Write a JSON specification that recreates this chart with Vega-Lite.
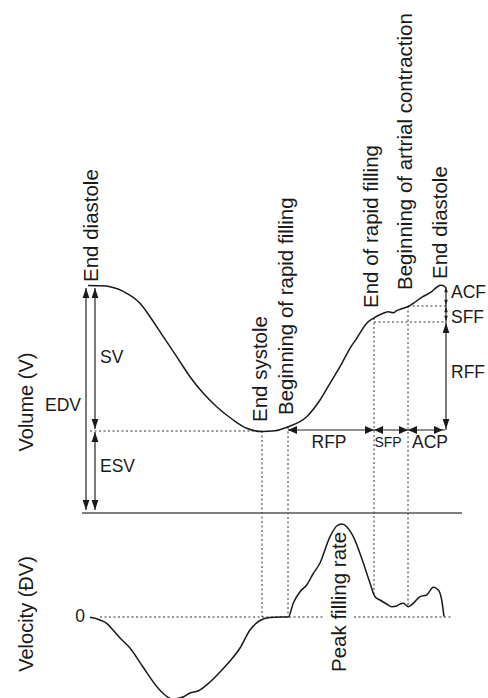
{
  "$schema": "https://vega.github.io/schema/vega-lite/v6.json",
  "width": 488,
  "height": 698,
  "padding": 0,
  "autosize": {"type": "none"},
  "config": {
    "view": {"stroke": null},
    "text": {"font": "Liberation Sans", "color": "#1a1a1a"}
  },
  "datasets": {
    "volume": [
      {"t": 88, "v": 285.5}, {"t": 100, "v": 285.8}, {"t": 110, "v": 286.7}, {"t": 118, "v": 289}, {"t": 126.7, "v": 293.3},
      {"t": 140, "v": 303.3}, {"t": 150, "v": 316.7}, {"t": 163.3, "v": 336.7}, {"t": 176.7, "v": 356.7},
      {"t": 190, "v": 376.7}, {"t": 203.3, "v": 393.3}, {"t": 216.7, "v": 406.7}, {"t": 233.3, "v": 420},
      {"t": 246.7, "v": 428.3}, {"t": 262, "v": 431.5}, {"t": 275, "v": 430.8}, {"t": 288.3, "v": 426.7},
      {"t": 306.7, "v": 416.7}, {"t": 320, "v": 400}, {"t": 330, "v": 383.3}, {"t": 340, "v": 366.7},
      {"t": 350, "v": 348.3}, {"t": 356.7, "v": 338.3}, {"t": 366.7, "v": 323.3}, {"t": 373.3, "v": 318.3},
      {"t": 383.3, "v": 313.3}, {"t": 388.3, "v": 311.7}, {"t": 393.3, "v": 312.7}, {"t": 396.7, "v": 310.7},
      {"t": 403.3, "v": 308.3}, {"t": 408.3, "v": 306.5}, {"t": 413.3, "v": 303.3}, {"t": 421.7, "v": 297.3},
      {"t": 431.7, "v": 291.7}, {"t": 437, "v": 287}, {"t": 440.5, "v": 285.2}, {"t": 443, "v": 285.5}, {"t": 445.5, "v": 287.5}
    ],
    "velocity": [
      {"t": 90, "v": 617.3}, {"t": 100, "v": 620}, {"t": 106.7, "v": 623.3}, {"t": 113, "v": 630}, {"t": 120, "v": 638},
      {"t": 130, "v": 648}, {"t": 143, "v": 667}, {"t": 158, "v": 688}, {"t": 165, "v": 695}, {"t": 172, "v": 699},
      {"t": 183, "v": 697}, {"t": 190, "v": 693}, {"t": 198, "v": 691}, {"t": 210, "v": 682}, {"t": 220, "v": 672},
      {"t": 230, "v": 661}, {"t": 240, "v": 648}, {"t": 250, "v": 630}, {"t": 260, "v": 620.5}, {"t": 270, "v": 617.5},
      {"t": 280, "v": 617}, {"t": 288.3, "v": 617}, {"t": 293.3, "v": 603}, {"t": 300, "v": 591.7}, {"t": 306.7, "v": 585},
      {"t": 313, "v": 574}, {"t": 320, "v": 563}, {"t": 330, "v": 536.7}, {"t": 336.7, "v": 526}, {"t": 341.7, "v": 524},
      {"t": 346.7, "v": 526.7}, {"t": 353.3, "v": 536.7}, {"t": 363.3, "v": 563}, {"t": 370, "v": 583}, {"t": 375, "v": 596.7},
      {"t": 380, "v": 600}, {"t": 386.7, "v": 604}, {"t": 391.7, "v": 606.7}, {"t": 396.7, "v": 606}, {"t": 400, "v": 604},
      {"t": 403.3, "v": 603.3}, {"t": 408.3, "v": 606.7}, {"t": 413.3, "v": 603.3}, {"t": 420, "v": 596.7}, {"t": 426.7, "v": 595},
      {"t": 433.3, "v": 587.3}, {"t": 438.3, "v": 590}, {"t": 441.7, "v": 600}, {"t": 444, "v": 616.7}
    ],
    "dotted": [
      {"x": 90, "y": 431, "x2": 262, "y2": 431},
      {"x": 262, "y": 431, "x2": 262, "y2": 617},
      {"x": 288, "y": 427, "x2": 288, "y2": 617},
      {"x": 374, "y": 318, "x2": 374, "y2": 594},
      {"x": 408, "y": 306, "x2": 408, "y2": 605},
      {"x": 374, "y": 322, "x2": 446, "y2": 322},
      {"x": 408, "y": 306, "x2": 446, "y2": 306},
      {"x": 100, "y": 617, "x2": 325, "y2": 617},
      {"x": 354, "y": 617, "x2": 453, "y2": 617}
    ],
    "separator": [
      {"x": 82, "y": 513, "x2": 462, "y2": 513}
    ],
    "shafts": [
      {"x": 86, "y": 288, "x2": 86, "y2": 510},
      {"x": 95, "y": 288, "x2": 95, "y2": 429},
      {"x": 95, "y": 432, "x2": 95, "y2": 510},
      {"x": 288, "y": 430, "x2": 445, "y2": 430},
      {"x": 446, "y": 287, "x2": 446, "y2": 430}
    ],
    "heads": [
      {"x": 86, "y": 288, "dir": "up", "kind": "big"},
      {"x": 86, "y": 510, "dir": "down", "kind": "big"},
      {"x": 95, "y": 288, "dir": "up", "kind": "big"},
      {"x": 95, "y": 429, "dir": "down", "kind": "big"},
      {"x": 95, "y": 432, "dir": "up", "kind": "big"},
      {"x": 95, "y": 510, "dir": "down", "kind": "big"},
      {"x": 288, "y": 430, "dir": "left", "kind": "big"},
      {"x": 374, "y": 430, "dir": "right", "kind": "big"},
      {"x": 374, "y": 430, "dir": "left", "kind": "big"},
      {"x": 408, "y": 430, "dir": "right", "kind": "big"},
      {"x": 408, "y": 430, "dir": "left", "kind": "big"},
      {"x": 443, "y": 430, "dir": "right", "kind": "big"},
      {"x": 446, "y": 323, "dir": "up", "kind": "big"},
      {"x": 446, "y": 429, "dir": "down", "kind": "big"},
      {"x": 446, "y": 307, "dir": "up", "kind": "small"},
      {"x": 446, "y": 321, "dir": "down", "kind": "small"},
      {"x": 446, "y": 287, "dir": "up", "kind": "small"},
      {"x": 446, "y": 305, "dir": "down", "kind": "small"}
    ],
    "labels": [
      {"x": 27, "y": 402, "text": "Volume (V)", "role": "vtitle"},
      {"x": 27, "y": 614, "text": "Velocity (ĐV)", "role": "vtitle"},
      {"x": 92, "y": 282, "text": "End diastole", "role": "event"},
      {"x": 261, "y": 422, "text": "End systole", "role": "event"},
      {"x": 287, "y": 415, "text": "Beginning of rapid filling", "role": "event"},
      {"x": 372, "y": 308, "text": "End of rapid filling", "role": "event"},
      {"x": 406, "y": 290, "text": "Beginning of artrial contraction", "role": "event"},
      {"x": 441, "y": 279, "text": "End diastole", "role": "event"},
      {"x": 340, "y": 672, "text": "Peak filling rate", "role": "event"},
      {"x": 100, "y": 358, "text": "SV", "role": "left"},
      {"x": 100, "y": 467, "text": "ESV", "role": "left"},
      {"x": 451, "y": 293, "text": "ACF", "role": "left"},
      {"x": 451, "y": 318, "text": "SFF", "role": "left"},
      {"x": 451, "y": 373, "text": "RFF", "role": "left"},
      {"x": 63, "y": 406, "text": "EDV", "role": "center"},
      {"x": 329, "y": 443, "text": "RFP", "role": "center"},
      {"x": 430, "y": 443, "text": "ACP", "role": "center"},
      {"x": 80, "y": 617, "text": "0", "role": "center"},
      {"x": 388, "y": 443, "text": "SFP", "role": "small"}
    ]
  },
  "layer": [
    {
      "data": {"name": "dotted"},
      "mark": {"type": "rule", "color": "#333333", "strokeWidth": 1, "strokeDash": [2, 2.5]},
      "encoding": {
        "x": {"field": "x", "type": "quantitative", "scale": {"domain": [0, 488], "nice": false, "zero": false}, "axis": null},
        "y": {"field": "y", "type": "quantitative", "scale": {"domain": [0, 698], "nice": false, "zero": false, "reverse": true}, "axis": null},
        "x2": {"field": "x2"},
        "y2": {"field": "y2"}
      }
    },
    {
      "data": {"name": "separator"},
      "mark": {"type": "rule", "color": "#555555", "strokeWidth": 1.3},
      "encoding": {
        "x": {"field": "x", "type": "quantitative", "axis": null},
        "y": {"field": "y", "type": "quantitative", "axis": null},
        "x2": {"field": "x2"},
        "y2": {"field": "y2"}
      }
    },
    {
      "data": {"name": "shafts"},
      "mark": {"type": "rule", "color": "#222222", "strokeWidth": 1.2},
      "encoding": {
        "x": {"field": "x", "type": "quantitative", "axis": null},
        "y": {"field": "y", "type": "quantitative", "axis": null},
        "x2": {"field": "x2"},
        "y2": {"field": "y2"}
      }
    },
    {
      "data": {"name": "volume"},
      "mark": {"type": "line", "color": "#1a1a1a", "strokeWidth": 1.5, "interpolate": "monotone"},
      "encoding": {
        "x": {"field": "t", "type": "quantitative", "axis": null},
        "y": {"field": "v", "type": "quantitative", "axis": null}
      }
    },
    {
      "data": {"name": "velocity"},
      "mark": {"type": "line", "color": "#1a1a1a", "strokeWidth": 1.5, "interpolate": "monotone", "clip": true},
      "encoding": {
        "x": {"field": "t", "type": "quantitative", "axis": null},
        "y": {"field": "v", "type": "quantitative", "axis": null}
      }
    },
    {
      "data": {"name": "heads"},
      "mark": {"type": "point", "filled": true, "opacity": 1, "color": "#1a1a1a", "strokeWidth": 0},
      "encoding": {
        "x": {"field": "x", "type": "quantitative", "axis": null},
        "y": {"field": "y", "type": "quantitative", "axis": null},
        "shape": {
          "field": "dir", "type": "nominal", "legend": null,
          "scale": {
            "domain": ["up", "down", "left", "right"],
            "range": ["M0,0L-0.34,1L0.34,1Z", "M0,0L-0.34,-1L0.34,-1Z", "M0,0L0.9,-0.4L0.9,0.4Z", "M0,0L-0.9,-0.4L-0.9,0.4Z"]
          }
        },
        "size": {
          "field": "kind", "type": "ordinal", "legend": null,
          "scale": {"domain": ["big", "small"], "range": [400, 110]}
        }
      }
    },
    {
      "data": {"name": "labels"},
      "transform": [{"filter": "datum.role === 'vtitle'"}],
      "mark": {"type": "text", "angle": 270, "align": "center", "baseline": "middle", "fontSize": 20},
      "encoding": {
        "x": {"field": "x", "type": "quantitative", "axis": null},
        "y": {"field": "y", "type": "quantitative", "axis": null},
        "text": {"field": "text"}
      }
    },
    {
      "data": {"name": "labels"},
      "transform": [{"filter": "datum.role === 'event'"}],
      "mark": {"type": "text", "angle": 270, "align": "left", "baseline": "middle", "fontSize": 20.5},
      "encoding": {
        "x": {"field": "x", "type": "quantitative", "axis": null},
        "y": {"field": "y", "type": "quantitative", "axis": null},
        "text": {"field": "text"}
      }
    },
    {
      "data": {"name": "labels"},
      "transform": [{"filter": "datum.role === 'left'"}],
      "mark": {"type": "text", "align": "left", "baseline": "middle", "fontSize": 17.5},
      "encoding": {
        "x": {"field": "x", "type": "quantitative", "axis": null},
        "y": {"field": "y", "type": "quantitative", "axis": null},
        "text": {"field": "text"}
      }
    },
    {
      "data": {"name": "labels"},
      "transform": [{"filter": "datum.role === 'center'"}],
      "mark": {"type": "text", "align": "center", "baseline": "middle", "fontSize": 17.5},
      "encoding": {
        "x": {"field": "x", "type": "quantitative", "axis": null},
        "y": {"field": "y", "type": "quantitative", "axis": null},
        "text": {"field": "text"}
      }
    },
    {
      "data": {"name": "labels"},
      "transform": [{"filter": "datum.role === 'small'"}],
      "mark": {"type": "text", "align": "center", "baseline": "middle", "fontSize": 14},
      "encoding": {
        "x": {"field": "x", "type": "quantitative", "axis": null},
        "y": {"field": "y", "type": "quantitative", "axis": null},
        "text": {"field": "text"}
      }
    }
  ]
}
